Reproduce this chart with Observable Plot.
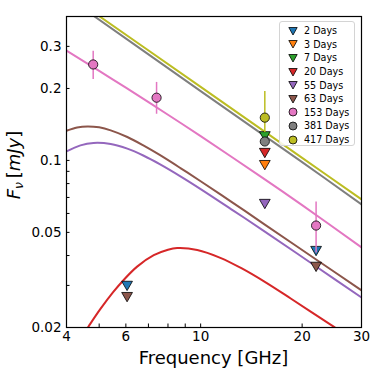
<!DOCTYPE html>
<html><head><meta charset="utf-8">
<script src="https://cdn.jsdelivr.net/npm/d3@7"></script>
<script src="https://cdn.jsdelivr.net/npm/@observablehq/plot@0.6"></script>
<style>
body{margin:0;background:#fff;font-family:"DejaVu Sans",sans-serif}
#wrap{position:relative;width:374px;height:374px}
#legend{position:absolute;left:279px;top:21px;width:76px;height:125px;box-sizing:border-box;border:1px solid #d4d4d4;border-radius:3px;background:rgba(255,255,255,0.85);padding-top:2px}
.row{display:flex;align-items:center;height:13.6px;font-size:9.6px;color:#000;white-space:nowrap}
.row svg{margin-left:8px;margin-right:6px}
</style>
</head><body><div id="wrap"></div>
<script>
// Series (legend order)
const seriesNames  = ["2 Days","3 Days","7 Days","20 Days","55 Days","63 Days","153 Days","381 Days","417 Days"];
const seriesColors = ["#1f77b4","#ff7f0e","#2ca02c","#d62728","#9467bd","#8c564b","#e377c2","#7f7f7f","#bcbd22"];
const seriesMarker = ["tri","tri","tri","tri","tri","tri","circle","circle","circle"];

// Observations (triangles = upper limits, circles = detections)
const obsSeries = ["2 Days","2 Days","3 Days","7 Days","20 Days","55 Days","63 Days","63 Days","153 Days","153 Days","153 Days","381 Days","417 Days"];
const obsFreq   = [6.05, 22.0, 15.5, 15.5, 15.5, 15.5, 6.05, 22.0, 4.8, 7.4, 22.0, 15.5, 15.5];
const obsFlux   = [0.0303, 0.0424, 0.097, 0.128, 0.109, 0.0667, 0.0272, 0.0364, 0.252, 0.183, 0.0534, 0.120, 0.151];

// Error bars
const errSeries = ["153 Days","153 Days","153 Days","417 Days"];
const errFreq   = [4.8, 7.4, 22.0, 15.5];
const errLow    = [0.218, 0.156, 0.041, 0.131];
const errHigh   = [0.286, 0.212, 0.067, 0.194];

// Model curves
const curve153Freq = [4, 5, 6, 8, 10, 15, 20, 30];
const curve153Flux = [0.288, 0.2369, 0.2015, 0.1553, 0.1263, 0.0860, 0.0650, 0.0433];
const curve63Freq  = [4, 4.3, 4.62, 5.0, 5.41, 6.06, 6.78, 7.56, 8.71, 10, 12.5, 15.5, 22, 30];
const curve63Flux  = [0.1331, 0.1374, 0.1388, 0.1375, 0.1336, 0.1253, 0.1153, 0.1054, 0.0929, 0.0818, 0.0663, 0.0539, 0.0385, 0.0286];
const curve55Freq  = [4, 4.4, 4.81, 5.41, 6.06, 6.78, 7.56, 8.71, 10, 12.5, 15.5, 22, 30];
const curve55Flux  = [0.109, 0.1156, 0.1183, 0.1171, 0.1120, 0.1046, 0.0965, 0.0858, 0.0759, 0.0617, 0.0504, 0.0360, 0.0267];
const curve20Freq  = [4.3, 4.65, 5.05, 5.5, 5.92, 6.48, 7.26, 8.0, 8.52, 9.77, 11.44, 13.25, 15.5, 18.5, 24.8, 27];
const curve20Flux  = [0.01706, 0.0202, 0.02397, 0.02811, 0.03169, 0.03595, 0.04012, 0.04229, 0.04297, 0.04221, 0.03913, 0.03531, 0.03103, 0.02644, 0.02016, 0.01863];
const curve381Freq = [4, 10, 20, 30];
const curve381Flux = [0.484, 0.195, 0.0984, 0.0655];
const curve417Freq = [4, 10, 20, 30];
const curve417Flux = [0.50, 0.203, 0.1025, 0.0687];

const curveSeries = [
  ["153 Days", curve153Freq, curve153Flux],
  ["63 Days",  curve63Freq,  curve63Flux],
  ["55 Days",  curve55Freq,  curve55Flux],
  ["20 Days",  curve20Freq,  curve20Flux],
  ["381 Days", curve381Freq, curve381Flux],
  ["417 Days", curve417Freq, curve417Flux]
];

// Axis ticks
const xTickLabels = [4, 6, 10, 20, 30];
const xTicksAll   = [4, 5, 6, 7, 8, 9, 10, 20, 30];
const yTickLabels = [0.02, 0.05, 0.1, 0.2, 0.3];
const yTicksAll   = [0.02, 0.03, 0.04, 0.05, 0.06, 0.07, 0.08, 0.09, 0.1, 0.2, 0.3];

const colorOf = Object.fromEntries(seriesNames.map((n, i) => [n, seriesColors[i]]));

const curveRows = curveSeries.flatMap(([s, fs, vs]) => fs.map((f, i) => ({series: s, freq: f, flux: vs[i]})));
const obsRows = obsSeries.map((s, i) => ({series: s, freq: obsFreq[i], flux: obsFlux[i]}));
const errRows = errSeries.map((s, i) => ({series: s, freq: errFreq[i], lo: errLow[i], hi: errHigh[i]}));

const marks = [
  Plot.line(curveRows, {x: "freq", y: "flux", z: "series", stroke: d => colorOf[d.series], strokeWidth: 2, curve: "catmull-rom", clip: true})
];
seriesNames.forEach((s, i) => {
  const e = errRows.filter(d => d.series === s);
  if (e.length) marks.push(Plot.ruleX(e, {x: "freq", y1: "lo", y2: "hi", stroke: seriesColors[i], strokeWidth: 1.5}));
  const o = obsRows.filter(d => d.series === s);
  if (seriesMarker[i] === "tri") {
    marks.push(Plot.dot(o, {x: "freq", y: "flux", symbol: "triangle", r: 4.0, rotate: 180, fill: seriesColors[i], stroke: "black", strokeWidth: 0.8}));
  } else {
    marks.push(Plot.dot(o, {x: "freq", y: "flux", r: 4.6, fill: seriesColors[i], stroke: "black", strokeWidth: 0.8}));
  }
});

marks.push(
  Plot.axisX({ticks: xTickLabels, tickFormat: d => String(d), tickSize: 0, tickPadding: 4, fontSize: 13.5, label: null}),
  Plot.axisX({ticks: xTicksAll, tickFormat: () => "", tickSize: 3.5, dy: -3.5, label: null}),
  Plot.axisY({ticks: yTickLabels, tickFormat: d => String(d), tickSize: 0, tickPadding: 5, fontSize: 13.5, label: null}),
  Plot.axisY({ticks: yTicksAll, tickFormat: () => "", tickSize: 3.5, dx: 3.5, label: null}),
  Plot.frame({stroke: "black", strokeWidth: 1.2})
);

const chart = Plot.plot({
  width: 374, height: 374,
  marginLeft: 66, marginRight: 13, marginTop: 16, marginBottom: 47,
  style: {fontFamily: "DejaVu Sans", color: "black", background: "white"},
  x: {type: "log", domain: [4, 30]},
  y: {type: "log", domain: [0.02, 0.4]},
  marks
});

const svg = d3.select(chart);
// x label
svg.append("text").attr("x", 213.5).attr("y", 364).attr("text-anchor", "middle")
  .attr("font-size", 18).attr("font-family", "DejaVu Sans").attr("fill", "black").text("Frequency [GHz]");
// y label
const yl = svg.append("text").attr("transform", "translate(20,165) rotate(-90)").attr("text-anchor", "middle")
  .attr("font-size", 18).attr("font-family", "DejaVu Sans").attr("fill", "black");
yl.append("tspan").attr("font-style", "italic").text("F");
yl.append("tspan").attr("font-style", "italic").attr("font-size", 12.5).attr("dy", 3).text("ν");
yl.append("tspan").attr("dy", -3).text("\u2009[");
yl.append("tspan").attr("font-style", "italic").text("mJy");
yl.append("tspan").text("]");

const wrap = document.getElementById("wrap");
wrap.appendChild(chart);

// legend
const leg = document.createElement("div");
leg.id = "legend";
seriesNames.forEach((s, i) => {
  const row = document.createElement("div");
  row.className = "row";
  const shape = seriesMarker[i] === "tri"
    ? `<polygon points="0.8,1.5 9.2,1.5 5,9" fill="${seriesColors[i]}" stroke="black" stroke-width="0.8"/>`
    : `<circle cx="5" cy="5" r="4" fill="${seriesColors[i]}" stroke="black" stroke-width="0.8"/>`;
  row.innerHTML = `<svg width="10" height="10" viewBox="0 0 10 10">${shape}</svg><span>${s}</span>`;
  leg.appendChild(row);
});
wrap.appendChild(leg);
</script>
</body></html>
